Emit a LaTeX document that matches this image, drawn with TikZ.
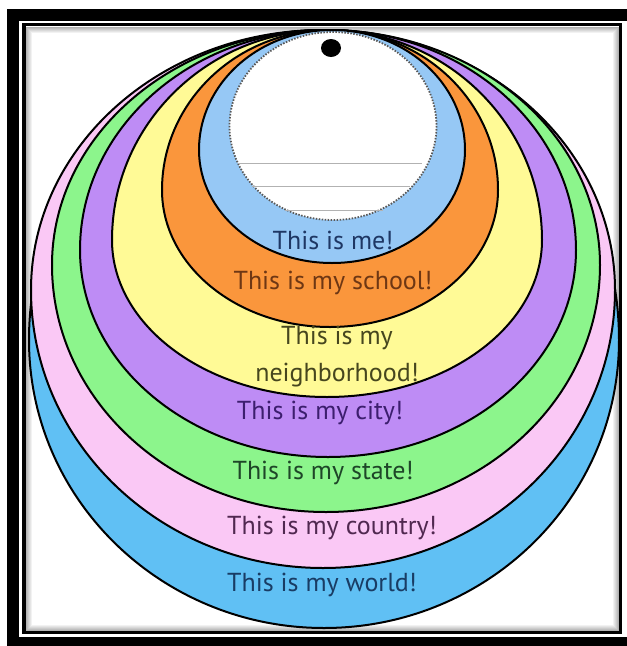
\documentclass[tikz,border=0pt]{standalone}
\usepackage{fontspec}
\setmainfont{PT Sans}
\usetikzlibrary{positioning}

\definecolor{worldblue}{RGB}{96,192,244}
\definecolor{countrypink}{RGB}{250,200,245}
\definecolor{stategreen}{RGB}{140,245,140}
\definecolor{citypurple}{RGB}{190,140,245}
\definecolor{hoodyellow}{RGB}{255,250,150}
\definecolor{schoolorange}{RGB}{250,150,60}
\definecolor{meblue}{RGB}{150,200,245}

% egg shaped ring: centre x, widest y, half width, upper and lower half height
\newcommand{\eggring}[6]{%
  \filldraw[ring, fill=#1] (#2-#4,#3)
    arc[start angle=180, end angle=360, x radius=#4, y radius=#5]
    arc[start angle=0, end angle=180, x radius=#4, y radius=#6] -- cycle;}

\tikzset{
  ring/.style={draw=black, line width=2pt},
  label/.style={font=\fontsize{26}{37}\selectfont, align=center}
}

\begin{document}
\begin{tikzpicture}[x=1pt, y=-1pt]
  \useasboundingbox (0,0) rectangle (627,646);
  \clip (0,0) rectangle (627,646);

  % Frame
  \fill[black] (7,9) rectangle (660,660);
  \fill[white] (19,21) rectangle (631,637);
  \draw[line width=3.5pt] (24,24.5) rectangle (620.5,632.5);
  \foreach \i [evaluate=\i as \op using 0.05*(7-\i)] in {1,...,6}
    \draw[black, opacity=\op, line width=1pt] (25.5+\i,26+\i) rectangle (619-\i,631-\i);

  % Rings, outside in
  \eggring{worldblue}{324}{340}{295}{310}{288}
  \eggring{countrypink}{323}{290}{292}{260}{278}
  \eggring{stategreen}{326}{265}{274}{235}{247}
  \eggring{citypurple}{328}{250}{248}{220}{207}
  \eggring{hoodyellow}{327}{240}{215}{210}{157}
  \eggring{schoolorange}{330}{190}{168}{160}{137}
  \eggring{meblue}{332}{150}{133}{120}{113}

  % Picture circle
  \draw[black!65, line width=1.8pt, dash pattern=on 1.5pt off 1.5pt, fill=white]
    (333,126) ellipse [x radius=103.5, y radius=94];
  \draw[gray!60, line width=1pt] (238,163) -- (422,163);
  \draw[gray!60, line width=1pt] (252,186) -- (410,186);
  \draw[gray!60, line width=1pt] (285,210) -- (383,210);
  \fill[black] (331,48) ellipse [x radius=10, y radius=9];

  % Labels
  \node[label, text={rgb,255:red,30;green,55;blue,100}] (me) at (333,240) {This is me!};
  \node[label, text={rgb,255:red,110;green,55;blue,20}] (school) at (333,283) {This is my school!};
  \node[label, text={rgb,255:red,70;green,70;blue,30}] (hood) at (337,357) {This is my\\neighborhood!};
  \node[label, text={rgb,255:red,60;green,30;blue,110}] (city) at (320,413) {This is my city!};
  \node[label, text={rgb,255:red,30;green,70;blue,40}] (state) at (323,473) {This is my state!};
  \node[label, text={rgb,255:red,80;green,40;blue,80}] (country) at (332,528) {This is my country!};
  \node[label, text={rgb,255:red,25;green,60;blue,100}] (world) at (322,585) {This is my world!};
\end{tikzpicture}
\end{document}
